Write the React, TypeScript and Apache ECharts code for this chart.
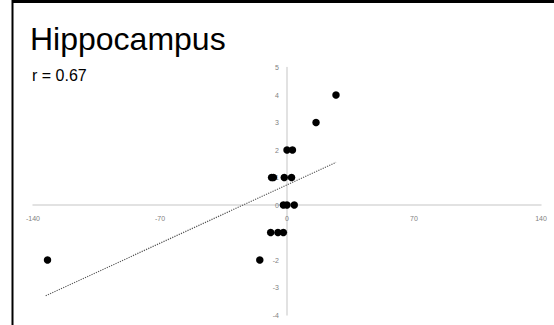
import React, { useEffect, useRef } from "react";
import * as echarts from "echarts";

const titleText = "Hippocampus";
const rText = "r = 0.67";
const xValues = [-132, -15, -9, -5, -2, -8.5, -7.5, -1.5, 2.5, 0, 3, -2, 0, 4, 16, 27];
const yValues = [-2, -2, -1, -1, -1, 1, 1, 1, 1, 2, 2, 0, 0, 0, 3, 4];
const trendX = [-133, 27];
const trendY = [-3.3, 1.55];
const xTicks = { min: -140, max: 140, interval: 70 };
const yTicks = { min: -4, max: 5, interval: 1 };

const G_LEFT = 33;
const G_RIGHT = 13;
const G_TOP = 67.5;
const G_BOTTOM = 10;
const W = 554;
const H = 325;

export default function App() {
  const ref = useRef<HTMLDivElement>(null);
  useEffect(() => {
    if (!ref.current) return;
    const chart = echarts.init(ref.current, null, { renderer: "svg" });
    const points = xValues.map((x, i) => [x, yValues[i]]);
    const trend = trendX.map((x, i) => [x, trendY[i]]);
    const axisLabel = { color: "#7f7f7f", fontSize: 7, fontFamily: "Liberation Sans" };
    const gw = W - G_LEFT - G_RIGHT;
    const gh = H - G_TOP - G_BOTTOM;
    const zeroXpx = ((0 - xTicks.min) / (xTicks.max - xTicks.min)) * gw;
    const zeroYfromBottom = ((0 - yTicks.min) / (yTicks.max - yTicks.min)) * gh;
    chart.setOption({
      animation: false,
      backgroundColor: "#ffffff",
      grid: { left: G_LEFT, right: G_RIGHT, top: G_TOP, bottom: G_BOTTOM },
      xAxis: {
        type: "value",
        position: "bottom",
        offset: -zeroYfromBottom,
        min: xTicks.min,
        max: xTicks.max,
        interval: xTicks.interval,
        axisLine: { onZero: false, lineStyle: { color: "#d9d9d9", width: 1.5 } },
        axisTick: { show: false },
        splitLine: { show: false },
        axisLabel: { ...axisLabel, margin: 10 },
      },
      yAxis: {
        type: "value",
        position: "left",
        offset: -zeroXpx,
        min: yTicks.min,
        max: yTicks.max,
        interval: yTicks.interval,
        axisLine: { show: true, onZero: false, lineStyle: { color: "#d9d9d9", width: 1.5 } },
        axisTick: { show: false },
        splitLine: { show: false },
        axisLabel: { ...axisLabel, margin: 8 },
      },
      graphic: [
        { type: "line", shape: { x1: 12, y1: 1.5, x2: 554, y2: 1.5 }, style: { stroke: "#000", lineWidth: 3 } },
        { type: "line", shape: { x1: 12.5, y1: 0, x2: 12.5, y2: 325 }, style: { stroke: "#000", lineWidth: 2 } },
        {
          type: "text",
          left: 30,
          top: 23,
          style: { text: titleText, font: "32px 'Liberation Sans'", fill: "#000" },
        },
        {
          type: "text",
          left: 32,
          top: 67,
          style: { text: rText, font: "16px 'Liberation Sans'", fill: "#000" },
        },
      ],
      series: [
        {
          type: "line",
          data: trend,
          symbol: "none",
          lineStyle: { color: "#555", width: 1.2, type: "dotted" },
          z: 1,
        },
        {
          type: "scatter",
          data: points,
          symbolSize: 7.5,
          itemStyle: { color: "#000", opacity: 1 },
          z: 3,
        },
      ],
    });
    return () => chart.dispose();
  }, []);
  return (
    <div
      ref={ref}
      style={{ position: "absolute", left: 0, top: 0, width: W, height: H }}
    />
  );
}
